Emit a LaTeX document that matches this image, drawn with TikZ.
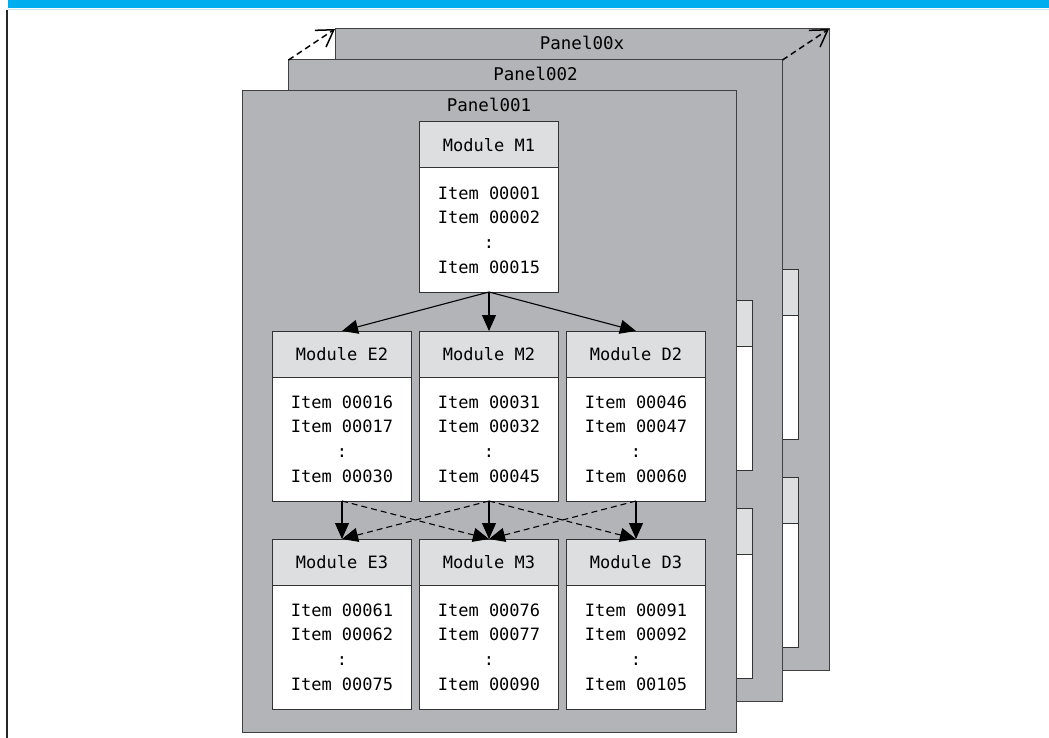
\documentclass[tikz,border=0pt]{standalone}
\usepackage{fontspec}
\setmonofont{DejaVu Sans Mono}
\usetikzlibrary{arrows.meta,positioning}
\definecolor{panelgray}{RGB}{179,180,184}
\definecolor{hdrgray}{RGB}{221,222,224}
\definecolor{bandcyan}{RGB}{0,174,239}
\definecolor{bandline}{RGB}{196,228,242}
\tikzset{
  panel/.style={draw=black!75, fill=panelgray, line width=1pt, outer sep=0pt,
                inner sep=0pt, anchor=north west, minimum width=494pt,
                minimum height=641pt},
  ptitle/.style={font=\ttfamily\fontsize{17.5}{20}\selectfont, inner sep=0pt},
  hdr/.style={draw=black!80, fill=hdrgray, line width=1pt, outer sep=0pt,
              inner sep=0pt, minimum width=139pt, minimum height=46pt,
              font=\ttfamily\fontsize{17}{20}\selectfont},
  body/.style={draw=black!80, fill=white, line width=1pt, outer sep=0pt,
               inner sep=0pt, minimum width=139pt, minimum height=124pt,
               align=center, font=\ttfamily\fontsize{17}{24.7}\selectfont},
  sig/.style={-{Triangle[length=16pt,width=14pt]}, line width=1.1pt},
  xsig/.style={sig, dash pattern=on 6pt off 4pt},
  stack/.style={-{Straight Barb[length=16pt,width=20pt]}, line width=1.5pt,
                dash pattern=on 6pt off 4pt},
}
\begin{document}
\begin{tikzpicture}[x=1pt, y=-1pt]
  \useasboundingbox (0,0) rectangle (1049,738);
  % page band and margin rule
  \fill[bandcyan] (8,0) rectangle (1049,8.5);
  \draw[bandline, line width=1pt] (8,9.3) -- (1049,9.3);
  \draw[black!85, line width=1.3pt] (7,10) -- (7,738);

  % panels behind
  \foreach \k/\sx/\sy/\lbl in {3/93/-62/Panel00x, 2/46.5/-31/Panel002}{
    \begin{scope}[shift={(\sx,\sy)}]
      \node[panel] (p\k) at (242,91) {};
      \node[ptitle, below=7pt of p\k.north] (t\k) {\lbl};
      \node[hdr, below=31pt of p\k.north] (hM1\k) {};
      \node[body, below=0pt of hM1\k] (bM1\k) {};
      \node[hdr, below=39pt of bM1\k] (hM2\k) {};
      \node[body, below=0pt of hM2\k] (bM2\k) {};
      \node[hdr, right=8pt of hM2\k] (hD2\k) {};
      \node[body, below=0pt of hD2\k] (bD2\k) {};
      \node[hdr, below=38pt of bD2\k] (hD3\k) {};
      \node[body, below=0pt of hD3\k] (bD3\k) {};
    \end{scope}
  }
  \draw[stack] (p2.north west) -- (p3.north west);
  \draw[stack] (p2.north east) -- (p3.north east);

  % front panel
  \node[panel] (p1) at (242,91) {};
  \node[ptitle, below=7pt of p1.north] (t1) {Panel001};

  \node[hdr, below=31pt of p1.north] (hM1) {Module M1};
  \node[body, below=0pt of hM1] (bM1) {Item 00001\\Item 00002\\:\\Item 00015};

  \node[hdr, below=39pt of bM1] (hM2) {Module M2};
  \node[body, below=0pt of hM2] (bM2) {Item 00031\\Item 00032\\:\\Item 00045};
  \node[hdr, left=8pt of hM2] (hE2) {Module E2};
  \node[body, below=0pt of hE2] (bE2) {Item 00016\\Item 00017\\:\\Item 00030};
  \node[hdr, right=8pt of hM2] (hD2) {Module D2};
  \node[body, below=0pt of hD2] (bD2) {Item 00046\\Item 00047\\:\\Item 00060};

  \node[hdr, below=38pt of bE2] (hE3) {Module E3};
  \node[body, below=0pt of hE3] (bE3) {Item 00061\\Item 00062\\:\\Item 00075};
  \node[hdr, below=38pt of bM2] (hM3) {Module M3};
  \node[body, below=0pt of hM3] (bM3) {Item 00076\\Item 00077\\:\\Item 00090};
  \node[hdr, below=38pt of bD2] (hD3) {Module D3};
  \node[body, below=0pt of hD3] (bD3) {Item 00091\\Item 00092\\:\\Item 00105};

  \draw[sig] (bM1.south) -- (hE2.north);
  \draw[sig] (bM1.south) -- (hM2.north);
  \draw[sig] (bM1.south) -- (hD2.north);
  \foreach \c in {E,M,D}
    \draw[sig] (b\c2.south) -- (h\c3.north);
  \draw[xsig] (bE2.south) -- (hM3.north);
  \draw[xsig] (bM2.south) -- (hE3.north);
  \draw[xsig] (bM2.south) -- (hD3.north);
  \draw[xsig] (bD2.south) -- (hM3.north);
\end{tikzpicture}
\end{document}
